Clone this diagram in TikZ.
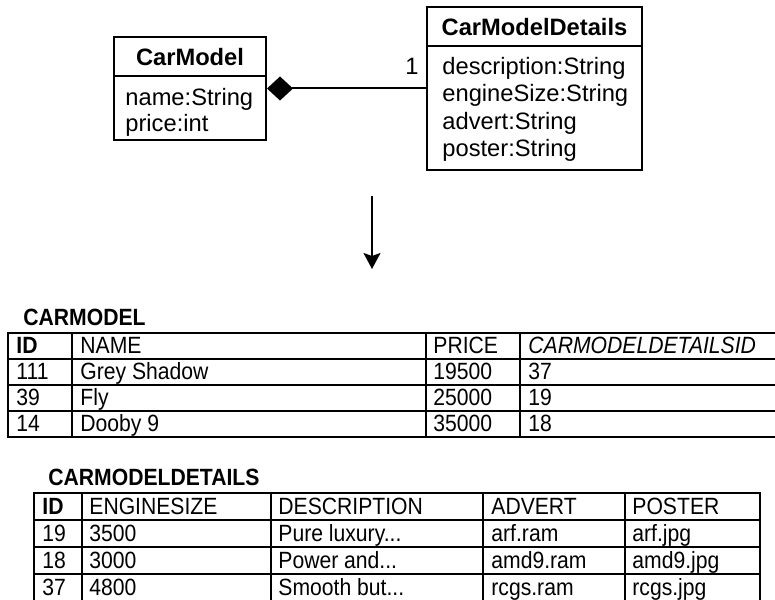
\documentclass[tikz,border=0pt]{standalone}
\usepackage{fontspec}
\setmainfont{Liberation Sans}
\newfontfamily\narrowfont[FakeStretch=0.9]{Liberation Sans}
\usetikzlibrary{arrows.meta}
\tikzset{
  class box/.style={draw=black, line width=1pt, inner sep=0pt},
  class title/.style={font=\fontsize{11.85}{14}\selectfont\bfseries,
    anchor=base, inner sep=0pt},
  class attr/.style={font=\fontsize{11.85}{14}\selectfont,
    anchor=base west, inner sep=0pt},
  composition/.style={{Diamond[length=13pt,width=12pt]}-, line width=1pt},
  map arrow/.style={-{Stealth[length=8pt,width=8.5pt,inset=1.5pt]},
    line width=1pt},
  table grid/.style={draw=black, line width=0.8pt},
  table title/.style={font=\narrowfont\fontsize{11.75}{14}\selectfont\bfseries,
    anchor=base west, inner sep=0pt},
  cell/.style={font=\narrowfont\fontsize{11.75}{14}\selectfont,
    anchor=base west, inner sep=0pt},
  key cell/.style={cell, font=\narrowfont\fontsize{11.75}{14}\selectfont\bfseries},
  fk cell/.style={cell, font=\narrowfont\fontsize{11.75}{14}\selectfont\itshape}
}
\begin{document}
\begin{tikzpicture}[x=0.5pt, y=-0.5pt]
  \clip (0,0) rectangle (775,599);

  % class diagram
  \node[class box, minimum width=76pt, minimum height=51.5pt]
    (carmodel) at (190,88.5) {};
  \draw[line width=1pt] ([yshift=-20pt]carmodel.north west)
    -- ([yshift=-20pt]carmodel.north east);
  \node[class title] (cmtitle) at (190,66) {CarModel};
  \node[class attr] (cmname) at (125,105) {name:String};
  \node[class attr] (cmprice) at (125,132) {price:int};

  \node[class box, minimum width=107.5pt, minimum height=81.5pt]
    (details) at (534.5,88.5) {};
  \draw[line width=1pt] ([yshift=-20pt]details.north west)
    -- ([yshift=-20pt]details.north east);
  \node[class title] (dttitle) at (534.5,35.5) {CarModelDetails};
  \node[class attr] (dtdesc) at (442,75) {description:String};
  \node[class attr] (dtengine) at (442,102) {engineSize:String};
  \node[class attr] (dtadvert) at (442,129) {advert:String};
  \node[class attr] (dtposter) at (442,156) {poster:String};

  \draw[composition] (carmodel.east) -- (details.west);
  \node[class attr, anchor=base] (mult) at (412,75) {1};

  \coordinate (mapstart) at (372,196);
  \coordinate (mapend) at (372,269);
  \draw[map arrow] (mapstart) -- (mapend);

  % table CARMODEL
  \node[table title] (cmlabel) at (23,325) {CARMODEL};
  \draw[table grid] (8,333) rectangle (800,437);
  \draw[table grid] (8,359) -- (800,359); \draw[table grid] (8,385) -- (800,385);
  \draw[table grid] (8,411) -- (800,411);
  \draw[table grid] (72,333) -- (72,437); \draw[table grid] (426,333) -- (426,437);
  \draw[table grid] (520,333) -- (520,437);
  \node[key cell] (a01) at (16,353) {ID};
  \node[cell] (a02) at (80,353) {NAME};
  \node[cell] (a03) at (433,353) {PRICE};
  \node[fk cell] (a04) at (528,353) {CARMODELDETAILSID};
  \node[cell] (a11) at (16,379) {111};
  \node[cell] (a12) at (80,379) {Grey Shadow};
  \node[cell] (a13) at (433,379) {19500};
  \node[cell] (a14) at (528,379) {37};
  \node[cell] (a21) at (16,405) {39};
  \node[cell] (a22) at (80,405) {Fly};
  \node[cell] (a23) at (433,405) {25000};
  \node[cell] (a24) at (528,405) {19};
  \node[cell] (a31) at (16,431) {14};
  \node[cell] (a32) at (80,431) {Dooby 9};
  \node[cell] (a33) at (433,431) {35000};
  \node[cell] (a34) at (528,431) {18};

  % table CARMODELDETAILS
  \node[table title] (dtlabel) at (48,485) {CARMODELDETAILS};
  \draw[table grid] (34,493) rectangle (760,620);
  \draw[table grid] (34,520) -- (760,520); \draw[table grid] (34,547) -- (760,547);
  \draw[table grid] (34,574) -- (760,574);
  \draw[table grid] (82,493) -- (82,620); \draw[table grid] (271,493) -- (271,620);
  \draw[table grid] (483,493) -- (483,620); \draw[table grid] (625,493) -- (625,620);
  \node[key cell] (b01) at (42,514) {ID};
  \node[cell] (b02) at (89,514) {ENGINESIZE};
  \node[cell] (b03) at (278,514) {DESCRIPTION};
  \node[cell] (b04) at (491,514) {ADVERT};
  \node[cell] (b05) at (632,514) {POSTER};
  \node[cell] (b11) at (42,541) {19};
  \node[cell] (b12) at (89,541) {3500};
  \node[cell] (b13) at (278,541) {Pure luxury...};
  \node[cell] (b14) at (491,541) {arf.ram};
  \node[cell] (b15) at (632,541) {arf.jpg};
  \node[cell] (b21) at (42,568) {18};
  \node[cell] (b22) at (89,568) {3000};
  \node[cell] (b23) at (278,568) {Power and...};
  \node[cell] (b24) at (491,568) {amd9.ram};
  \node[cell] (b25) at (632,568) {amd9.jpg};
  \node[cell] (b31) at (42,595) {37};
  \node[cell] (b32) at (89,595) {4800};
  \node[cell] (b33) at (278,595) {Smooth but...};
  \node[cell] (b34) at (491,595) {rcgs.ram};
  \node[cell] (b35) at (632,595) {rcgs.jpg};
\end{tikzpicture}
\end{document}
